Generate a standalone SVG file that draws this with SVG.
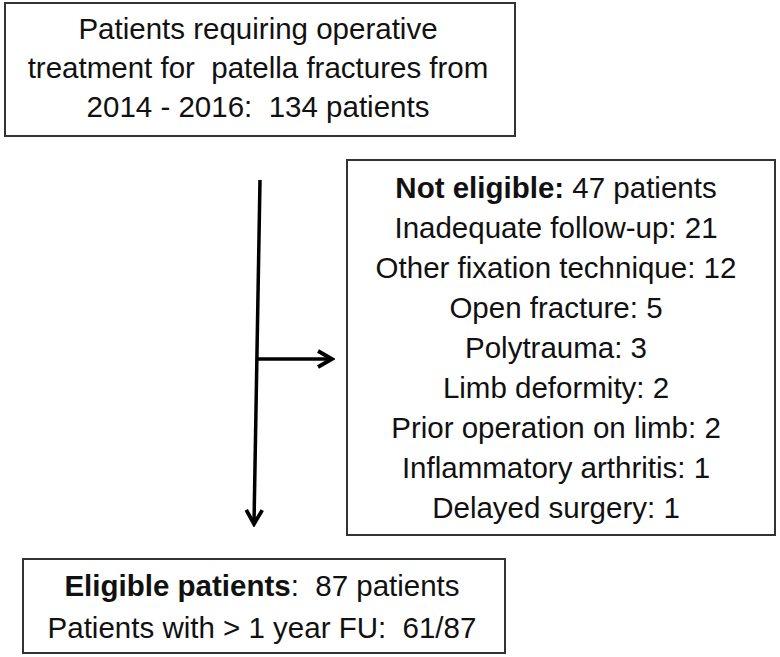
<svg xmlns="http://www.w3.org/2000/svg" width="780" height="657" viewBox="0 0 780 657">
<style>
.box{fill:#fff;stroke:#333;stroke-width:2}
text{font-family:"Liberation Sans",Arial,sans-serif;font-size:29.5px;fill:#111;text-anchor:middle;white-space:pre}
.b{font-weight:bold}
.ln{stroke:#000;stroke-width:3.5;fill:none}
</style>
<defs>
<marker id="ah" viewBox="0 0 20 20" refX="17" refY="10" markerWidth="20" markerHeight="20" markerUnits="userSpaceOnUse" orient="auto">
<path d="M3,2 L17,10 L3,18" fill="none" stroke="#000" stroke-width="3.8"/>
</marker>
</defs>
<rect width="780" height="657" fill="#fff"/>
<g id="top">
<rect class="box" x="5" y="3" width="510" height="133"/>
<text x="258" y="39">Patients requiring operative</text>
<text x="258" y="78">treatment for  patella fractures from</text>
<text x="258" y="117">2014 - 2016:  134 patients</text>
</g>
<g id="excluded">
<rect class="box" x="347" y="160" width="428" height="375"/>
<text x="556" y="198"><tspan class="b">Not eligible:</tspan> 47 patients</text>
<text x="556" y="238">Inadequate follow-up: 21</text>
<text x="556" y="278">Other fixation technique: 12</text>
<text x="556" y="318">Open fracture: 5</text>
<text x="556" y="358">Polytrauma: 3</text>
<text x="556" y="398">Limb deformity: 2</text>
<text x="556" y="438">Prior operation on limb: 2</text>
<text x="556" y="478">Inflammatory arthritis: 1</text>
<text x="556" y="518">Delayed surgery: 1</text>
</g>
<g id="eligible">
<rect class="box" x="23" y="559" width="482" height="94"/>
<text x="262" y="596"><tspan class="b">Eligible patients</tspan>:  87 patients</text>
<text x="262" y="638">Patients with &gt; 1 year FU:  61/87</text>
</g>
<g id="connectors">
<path class="ln" d="M260,180 L254,524" marker-end="url(#ah)"/>
<path class="ln" d="M258,359 L332,359" marker-end="url(#ah)"/>
</g>
</svg>
